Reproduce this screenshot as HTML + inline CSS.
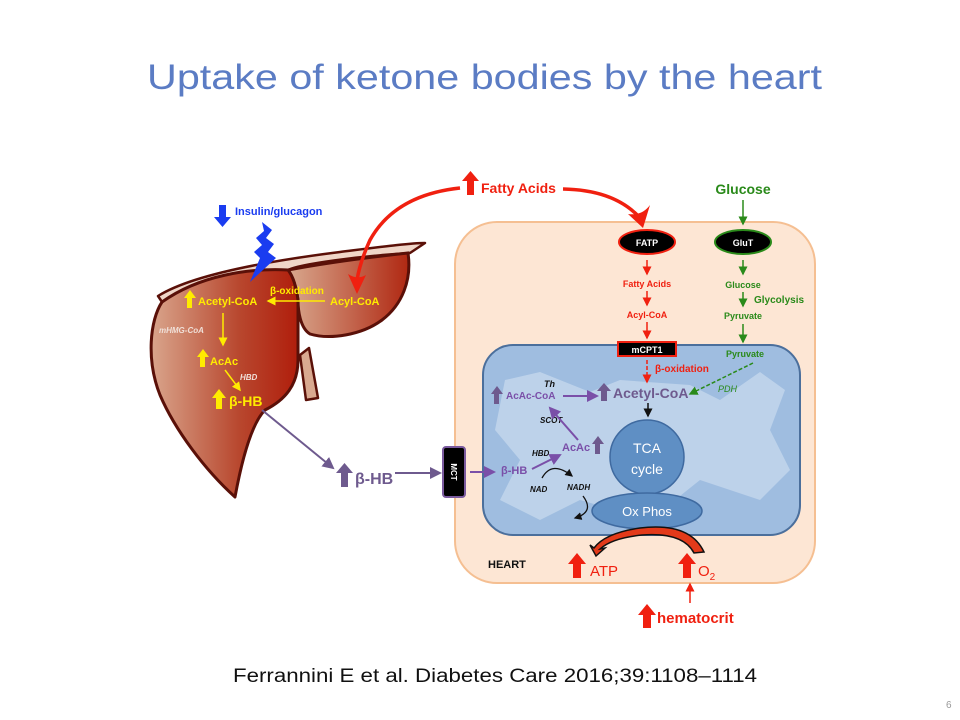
<!DOCTYPE html>
<html><head><meta charset="utf-8"><style>
body{margin:0;background:#fff}
svg{display:block}
text{font-family:"Liberation Sans",sans-serif}
</style></head><body>
<svg width="960" height="720" viewBox="0 0 960 720" xmlns="http://www.w3.org/2000/svg">
<defs>
<linearGradient id="lv" x1="0" x2="1" y1="0" y2="0">
<stop offset="0" stop-color="#d9a58c"/><stop offset="0.6" stop-color="#b8472e"/><stop offset="1" stop-color="#b01e0c"/></linearGradient>
<linearGradient id="lv2" x1="0" x2="1" y1="0" y2="0">
<stop offset="0" stop-color="#d8a88e"/><stop offset="1" stop-color="#b02812"/></linearGradient>
<marker id="ay" markerWidth="6" markerHeight="6" refX="5" refY="3" orient="auto"><path d="M0,0 L6,3 L0,6 z" fill="#ffeb00"/></marker>
<marker id="ar" markerWidth="6" markerHeight="6" refX="5" refY="3" orient="auto"><path d="M0,0 L6,3 L0,6 z" fill="#f02010"/></marker>
<marker id="ag" markerWidth="6" markerHeight="6" refX="5" refY="3" orient="auto"><path d="M0,0 L6,3 L0,6 z" fill="#2a8a1a"/></marker>
<marker id="ap" markerWidth="6" markerHeight="6" refX="5" refY="3" orient="auto"><path d="M0,0 L6,3 L0,6 z" fill="#7a4fa8"/></marker>
<marker id="apg" markerWidth="6" markerHeight="6" refX="5" refY="3" orient="auto"><path d="M0,0 L6,3 L0,6 z" fill="#6e5a8e"/></marker>
<marker id="ab" markerWidth="6" markerHeight="6" refX="5" refY="3" orient="auto"><path d="M0,0 L6,3 L0,6 z" fill="#111"/></marker>
</defs>

<text x="147" y="89" textLength="675" lengthAdjust="spacingAndGlyphs" font-size="35" fill="#5b7cc4">Uptake of ketone bodies by the heart</text>

<rect x="455" y="222" width="360" height="361" rx="42" fill="#fde6d4" stroke="#f5bf92" stroke-width="2"/>
<rect x="483" y="345" width="317" height="190" rx="30" fill="#9fbde0" stroke="#4b6f9c" stroke-width="2"/>
<path d="M505,380 L540,372 L590,392 L620,380 L690,385 L720,400 L760,372 L785,390 L770,430 L790,470 L760,500 L700,480 L650,520 L580,500 L540,520 L500,500 L520,460 L495,430 Z" fill="#c4d7ec" opacity="0.8"/>

<ellipse cx="647" cy="242" rx="28" ry="12" fill="#000" stroke="#f02010" stroke-width="2"/>
<text x="647" y="246" text-anchor="middle" font-size="9" font-weight="bold" fill="#fff">FATP</text>
<ellipse cx="743" cy="242" rx="28" ry="12" fill="#000" stroke="#2a8a1a" stroke-width="2"/>
<text x="743" y="246" text-anchor="middle" font-size="9" font-weight="bold" fill="#fff">GluT</text>

<g font-size="9" font-weight="bold" fill="#f02010" text-anchor="middle">
<text x="647" y="287">Fatty Acids</text>
<text x="647" y="318">Acyl-CoA</text>
</g>
<g stroke="#f02010" stroke-width="1.5">
<line x1="647" y1="260" x2="647" y2="274" marker-end="url(#ar)"/>
<line x1="647" y1="291" x2="647" y2="305" marker-end="url(#ar)"/>
<line x1="647" y1="322" x2="647" y2="338" marker-end="url(#ar)"/>
<line x1="647" y1="360" x2="647" y2="382" stroke-dasharray="4,2" marker-end="url(#ar)"/>
</g>
<rect x="618" y="342" width="58" height="14" fill="#000" stroke="#f02010" stroke-width="2"/>
<text x="647" y="353" text-anchor="middle" font-size="9" font-weight="bold" fill="#fff">mCPT1</text>
<text x="655" y="372" font-size="10" font-weight="bold" fill="#f02010">β-oxidation</text>

<g font-weight="bold" fill="#2a8a1a">
<text x="743" y="194" text-anchor="middle" font-size="14">Glucose</text>
<text x="743" y="288" text-anchor="middle" font-size="9">Glucose</text>
<text x="754" y="303" font-size="10">Glycolysis</text>
<text x="743" y="319" text-anchor="middle" font-size="9">Pyruvate</text>
<text x="745" y="357" text-anchor="middle" font-size="9">Pyruvate</text>
<text x="718" y="392" font-size="9" font-style="italic" font-weight="normal">PDH</text>
</g>
<g stroke="#2a8a1a" stroke-width="1.5">
<line x1="743" y1="200" x2="743" y2="224" marker-end="url(#ag)"/>
<line x1="743" y1="260" x2="743" y2="274" marker-end="url(#ag)"/>
<line x1="743" y1="292" x2="743" y2="306" marker-end="url(#ag)"/>
<line x1="743" y1="324" x2="743" y2="342" marker-end="url(#ag)"/>
<line x1="753" y1="363" x2="690" y2="394" stroke-dasharray="4,2" marker-end="url(#ag)"/>
</g>

<g fill="#6e5a8e">
<path d="M601,401 h6 v-10 h4 l-7,-8 l-7,8 h4 z"/>
<path d="M494,404 h5 v-10 h4 l-6,-8 l-6,8 h3 z"/>
<path d="M595,454 h5 v-10 h4 l-6,-8 l-6,8 h3 z"/>
</g>
<text x="613" y="398" font-size="14" font-weight="bold" fill="#6e5a8e">Acetyl-CoA</text>
<text x="506" y="399" font-size="10" font-weight="bold" fill="#7a4fa8">AcAc-CoA</text>
<text x="544" y="387" font-size="9" font-weight="bold" font-style="italic" fill="#111">Th</text>
<line x1="563" y1="396" x2="597" y2="396" stroke="#7a4fa8" stroke-width="2" marker-end="url(#ap)"/>
<text x="540" y="423" font-size="8" font-weight="bold" font-style="italic" fill="#111">SCOT</text>
<line x1="578" y1="440" x2="550" y2="408" stroke="#7a4fa8" stroke-width="2" marker-end="url(#ap)"/>
<text x="562" y="451" font-size="11" font-weight="bold" fill="#7a4fa8">AcAc</text>
<text x="532" y="456" font-size="8" font-weight="bold" font-style="italic" fill="#111">HBD</text>
<text x="501" y="474" font-size="11" font-weight="bold" fill="#7a4fa8">β-HB</text>
<line x1="532" y1="469" x2="560" y2="455" stroke="#7a4fa8" stroke-width="2" marker-end="url(#ap)"/>
<path d="M542,478 Q552,460 572,476" fill="none" stroke="#111" stroke-width="1.3" marker-end="url(#ab)"/>
<text x="530" y="492" font-size="8" font-weight="bold" font-style="italic" fill="#111">NAD</text>
<text x="567" y="490" font-size="8" font-weight="bold" font-style="italic" fill="#111">NADH</text>
<path d="M583,496 Q595,512 575,518" fill="none" stroke="#111" stroke-width="1.3" marker-end="url(#ab)"/>
<line x1="648" y1="403" x2="648" y2="416" stroke="#111" stroke-width="1.5" marker-end="url(#ab)"/>

<circle cx="647" cy="457" r="37" fill="#5f8fc4" stroke="#3f6aa0" stroke-width="1.5"/>
<text x="647" y="453" text-anchor="middle" font-size="14" fill="#fff">TCA</text>
<text x="647" y="474" text-anchor="middle" font-size="14" fill="#fff">cycle</text>
<ellipse cx="647" cy="511" rx="55" ry="18" fill="#5f8fc4" stroke="#3f6aa0" stroke-width="1.5"/>
<text x="647" y="516" text-anchor="middle" font-size="13" fill="#fff">Ox Phos</text>

<path d="M704,552 Q690,522 640,528 Q605,533 594,548 L590,545 L596,556 L605,548 L600,549 Q612,538 642,535 Q683,532 694,553 Z" fill="#e33a1a" stroke="#111" stroke-width="1.5"/>

<text x="488" y="568" font-size="11" font-weight="bold" fill="#111">HEART</text>
<path d="M573,578 h8 v-14 h5 l-9,-11 l-9,11 h5 z" fill="#f02010"/>
<text x="590" y="576" font-size="15" fill="#f02010">ATP</text>
<path d="M683,578 h8 v-14 h5 l-9,-11 l-9,11 h5 z" fill="#f02010"/>
<text x="698" y="576" font-size="15" fill="#f02010">O<tspan font-size="10" dy="4">2</tspan></text>
<line x1="690" y1="603" x2="690" y2="584" stroke="#f02010" stroke-width="1.5" marker-end="url(#ar)"/>
<path d="M643,628 h8 v-13 h5 l-9,-11 l-9,11 h5 z" fill="#f02010"/>
<text x="657" y="623" font-size="15" font-weight="bold" fill="#f02010">hematocrit</text>

<rect x="443" y="447" width="22" height="50" rx="3" fill="#000" stroke="#7a5a9e" stroke-width="2"/>
<text x="0" y="0" transform="translate(451,472) rotate(90)" text-anchor="middle" font-size="8" font-weight="bold" fill="#fff">MCT</text>
<line x1="470" y1="472" x2="494" y2="472" stroke="#7a4fa8" stroke-width="2" marker-end="url(#ap)"/>

<!-- liver -->
<path d="M300,355 L306,400 L318,398 L309,348 Z" fill="#d9a990" stroke="#5a1008" stroke-width="2.5" stroke-linejoin="round"/>
<path d="M158,296 C190,276 260,262 340,252 C380,247 410,243 425,243 L410,253 C360,256 300,264 288,270 C240,270 195,283 162,302 Z" fill="#f0d6c8" stroke="#5a1008" stroke-width="2.5" stroke-linejoin="round"/>
<path d="M288,270 C330,262 380,256 408,253 C412,280 402,305 382,320 C362,335 330,340 310,334 C300,328 298,310 298,300 C296,285 292,275 288,270 Z" fill="url(#lv2)" stroke="#5a1008" stroke-width="3"/>
<path d="M162,302 C150,320 146,360 160,395 C175,430 205,470 235,497 C240,470 250,425 265,410 C285,400 298,385 298,360 L298,300 C296,285 292,275 288,270 C250,268 200,275 162,302 Z" fill="url(#lv)" stroke="#5a1008" stroke-width="3" stroke-linejoin="round"/>

<g fill="#ffeb00">
<path d="M187,308 h5 v-10 h4 l-6,-8 l-6,8 h3 z"/>
<path d="M200,367 h5 v-10 h4 l-6,-8 l-6,8 h3 z"/>
<path d="M216,409 h6 v-11 h4 l-7,-9 l-7,9 h4 z"/>
</g>
<g font-weight="bold" fill="#ffeb00">
<text x="198" y="305" font-size="11">Acetyl-CoA</text>
<text x="330" y="305" font-size="11">Acyl-CoA</text>
<text x="270" y="294" font-size="10">β-oxidation</text>
<text x="210" y="365" font-size="11">AcAc</text>
<text x="229" y="406" font-size="14">β-HB</text>
</g>
<text x="159" y="333" font-size="8" font-style="italic" font-weight="bold" fill="#f0e0d8">mHMG-CoA</text>
<text x="240" y="380" font-size="8" font-style="italic" font-weight="bold" fill="#f0e0d8">HBD</text>
<g stroke="#ffeb00" stroke-width="1.5">
<line x1="325" y1="301" x2="268" y2="301" marker-end="url(#ay)"/>
<line x1="223" y1="313" x2="223" y2="345" marker-end="url(#ay)"/>
<line x1="225" y1="370" x2="240" y2="390" marker-end="url(#ay)"/>
</g>

<line x1="262" y1="410" x2="333" y2="468" stroke="#6e5a8e" stroke-width="2" marker-end="url(#apg)"/>
<path d="M341,487 h7 v-14 h5 l-8.5,-10 l-8.5,10 h5 z" fill="#6e5a8e"/>
<text x="355" y="484" font-size="16" font-weight="bold" fill="#6e5a8e">β-HB</text>
<line x1="395" y1="473" x2="440" y2="473" stroke="#6e5a8e" stroke-width="2" marker-end="url(#apg)"/>

<path d="M219,205 h7 v12 h5 l-8.5,10 l-8.5,-10 h5 z" fill="#1a3cf0"/>
<text x="235" y="215" font-size="11" font-weight="bold" fill="#1a3cf0">Insulin/glucagon</text>
<path d="M262,222 L272,230 L266,238 L274,244 L268,252 L276,258 L250,282 L260,258 L254,252 L262,245 L256,238 L264,231 Z" fill="#1a3cf0"/>

<path d="M467,195 h7 v-14 h5 l-8.5,-10 l-8.5,10 h5 z" fill="#f02010"/>
<text x="481" y="193" font-size="14" font-weight="bold" fill="#f02010">Fatty Acids</text>
<path d="M460,188 Q395,195 370,240 Q360,262 357,280" fill="none" stroke="#f02010" stroke-width="3.5"/>
<path d="M348,274 L357,294 L366,275 Q357,280 348,274 Z" fill="#f02010"/>
<path d="M563,189 Q615,190 640,218" fill="none" stroke="#f02010" stroke-width="3.5"/>
<path d="M628,214 L643,228 L650,205 Q642,216 628,214 Z" fill="#f02010"/>

<text x="233" y="682" textLength="524" lengthAdjust="spacingAndGlyphs" font-size="19" fill="#111">Ferrannini E et al. Diabetes Care 2016;39:1108–1114</text>
<text x="946" y="708" font-size="10" fill="#999">6</text>
</svg>
</body></html>
